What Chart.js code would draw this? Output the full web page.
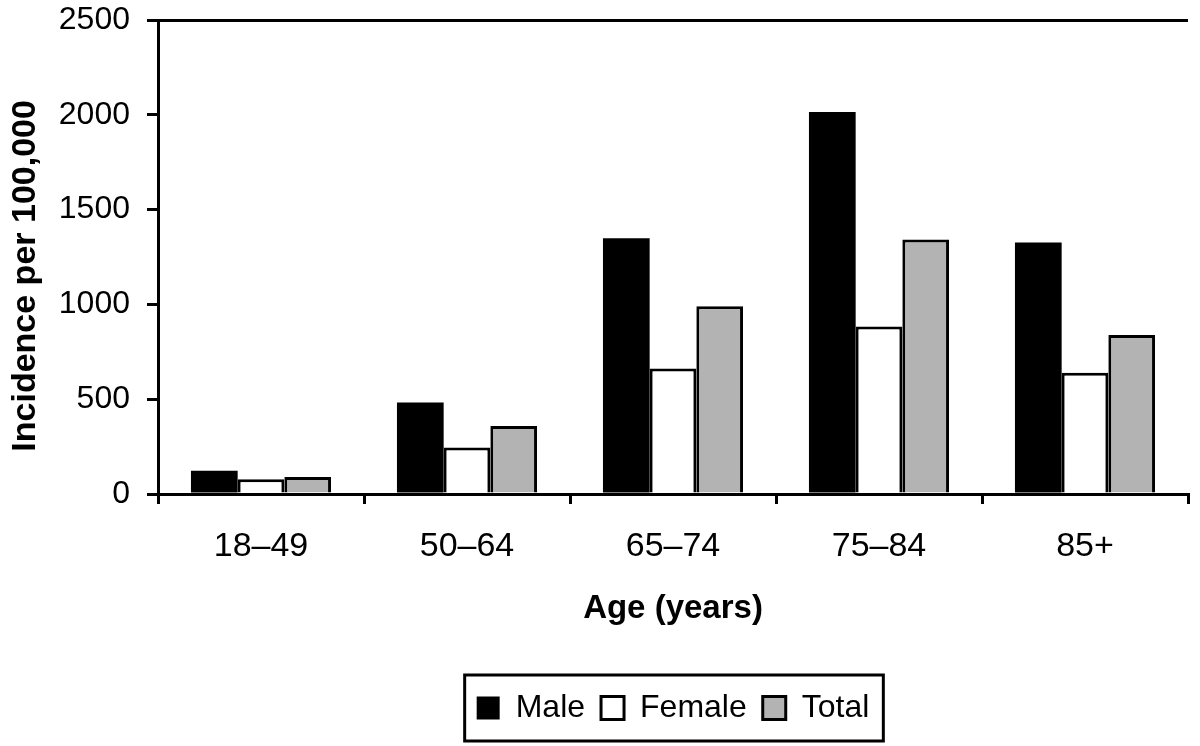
<!DOCTYPE html>
<html>
<head>
<meta charset="utf-8">
<script src="https://cdn.jsdelivr.net/npm/chart.js@4/dist/chart.umd.min.js"></script>
<style>
    body { margin: 0; background: #fff; }
    #wrap { width: 1200px; height: 746px; }
</style>
</head>
<body>
<div id="wrap"><canvas id="incidenceChart"></canvas></div>
<script>
// values
const ageGroups = ['18–49', '50–64', '65–74', '75–84', '85+'];
const maleValues = [122, 483, 1349, 2015, 1327];
const femaleValues = [78, 245, 662, 883, 640];
const totalValues = [90, 359, 990, 1342, 839];
const yTicks = [0, 500, 1000, 1500, 2000, 2500];

const fontFamily = '"Liberation Sans", Arial, sans-serif';

// legend sits under the plot area (not the whole canvas) and gets a frame
const legendFrame = {
    id: 'legendFrame',
    afterLayout(chart) {
        const legend = chart.legend;
        legend.left = chart.chartArea.left;
        legend.right = chart.chartArea.right;
        legend.width = legend.right - legend.left;
    },
    afterDraw(chart) {
        const boxes = chart.legend.legendHitBoxes;
        if (!boxes || !boxes.length) return;
        const left = Math.min(...boxes.map(b => b.left)) - 12;
        const right = Math.max(...boxes.map(b => b.left + b.width)) + 14;
        const mid = boxes[0].top + boxes[0].height / 2;
        const ctx = chart.ctx;
        ctx.save();
        ctx.lineWidth = 3;
        ctx.strokeStyle = '#000';
        ctx.strokeRect(left, mid - 33, right - left, 66);
        ctx.restore();
    }
};

const ctx = document.getElementById('incidenceChart').getContext('2d');
new Chart(ctx, {
    type: 'bar',
    data: {
        labels: ageGroups,
        datasets: [
            {
                label: 'Male',
                data: maleValues,
                backgroundColor: '#000',
                borderColor: '#000',
                borderWidth: 0,
            },
            {
                label: 'Female',
                data: femaleValues,
                backgroundColor: '#fff',
                borderColor: '#000',
                borderWidth: 3,
            },
            {
                label: 'Total',
                data: totalValues,
                backgroundColor: '#b3b3b3',
                borderColor: '#000',
                borderWidth: 3,
            },
        ],
    },
    options: {
        responsive: true,
        maintainAspectRatio: false,
        animation: false,
        layout: {
            padding: { top: 20, right: 12, bottom: 12, left: 0 },
        },
        datasets: {
            bar: {
                categoryPercentage: 0.68,
                barPercentage: 1.0,
            },
        },
        scales: {
            x: {
                border: { color: '#000', width: 3 },
                grid: {
                    offset: true,
                    lineWidth: 3,
                    tickLength: 10,
                    tickColor: '#000',
                    // only the right edge of the plot frame
                    color: c => (c.index === ageGroups.length ? '#000' : 'transparent'),
                },
                ticks: {
                    color: '#000',
                    padding: 22,
                    font: { family: fontFamily, size: 34 },
                },
                title: {
                    display: true,
                    text: 'Age (years)',
                    color: '#000',
                    font: { family: fontFamily, size: 33, weight: 'bold' },
                    padding: { top: 0, bottom: 47 },
                },
                afterFit: scale => { scale.height = 182; },
            },
            y: {
                min: 0,
                max: 2500,
                border: { color: '#000', width: 3 },
                grid: {
                    lineWidth: 3,
                    tickLength: 11,
                    tickColor: '#000',
                    // top edge of the plot frame
                    color: c => (c.tick && c.tick.value === 2500 ? '#000' : 'transparent'),
                },
                afterBuildTicks: scale => {
                    scale.ticks = yTicks.map(v => ({ value: v }));
                },
                ticks: {
                    color: '#000',
                    padding: 17,
                    font: { family: fontFamily, size: 32 },
                    callback: value => String(value), // no thousands separator
                },
                title: {
                    display: true,
                    // trailing spaces nudge the rotated title down, as in the original
                    text: 'Incidence per 100,000    ',
                    color: '#000',
                    font: { family: fontFamily, size: 34, weight: 'bold' },
                    padding: { top: 5, bottom: 0 },
                },
                afterFit: scale => {
                    scale.width = 158;
                    // the top label may run into the layout padding
                    scale.paddingTop = 0;
                    scale.paddingBottom = 0;
                },
            },
        },
        plugins: {
            legend: {
                position: 'bottom',
                labels: {
                    color: '#000',
                    boxWidth: 23,
                    boxHeight: 23,
                    padding: 16,
                    font: { family: fontFamily, size: 32 },
                },
            },
            tooltip: { enabled: false },
        },
    },
    plugins: [legendFrame],
});
</script>
</body>
</html>
